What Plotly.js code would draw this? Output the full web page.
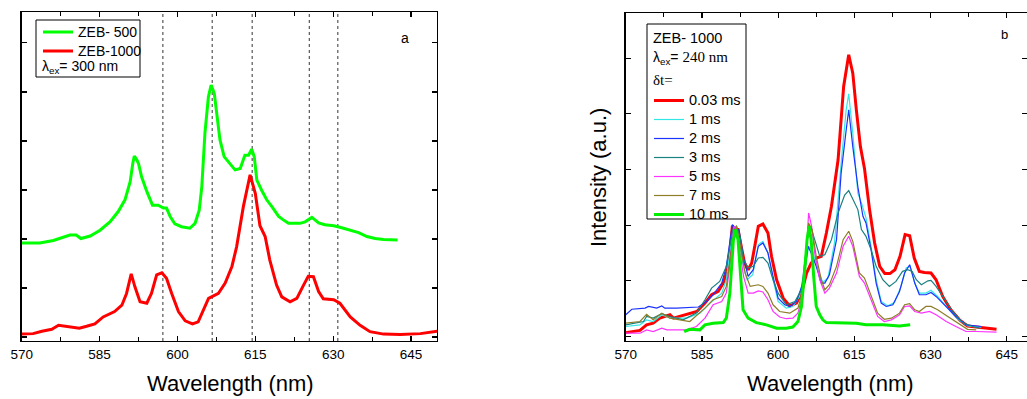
<!DOCTYPE html>
<html>
<head>
<meta charset="utf-8">
<script src="https://cdn.plot.ly/plotly-3.0.1.min.js"></script>
<style>html,body{margin:0;padding:0;background:#fff}#chart{width:1027px;height:399px}</style>
</head>
<body>
<div id="chart"></div>
<script>
// ---------- Panel a ----------
const wlZEB500 = [570,573.5,576.1,578.0,579.3,580.5,581.4,583.2,585.1,587.0,588.6,589.9,590.9,591.4,591.7,592.2,592.5,593.1,594.1,595.2,596.3,597.3,597.9,598.6,599.5,600.8,602.4,603.4,604.2,604.7,605.3,605.97,606.5,607.1,607.6,608.2,609.0,610.1,611.1,612.1,613.0,613.7,614.3,614.8,615.3,616.2,617.2,618.2,619.5,620.4,621.4,623.6,624.6,625.9,627.2,628.4,630.1,631.3,633.3,634.9,636.5,638.1,639.7,642.4];
const intZEB500 = [1.92,1.92,1.97,2.04,2.08,2.08,2.01,2.06,2.18,2.35,2.56,2.80,3.17,3.54,3.69,3.61,3.54,3.27,2.97,2.69,2.69,2.63,2.63,2.46,2.31,2.25,2.22,2.32,2.59,3.07,4.16,4.90,5.14,4.97,4.56,4.02,3.68,3.54,3.41,3.44,3.71,3.71,3.83,3.68,3.20,3.00,2.80,2.66,2.46,2.39,2.32,2.32,2.35,2.44,2.33,2.29,2.27,2.24,2.17,2.13,2.05,2.01,1.99,1.98];
const wlZEB1000 = [570,572.2,573.9,575.8,577.1,578.7,581.1,582.5,584.1,585.7,587.9,589.3,590.2,591.1,591.8,592.8,594.1,595.0,596.0,597.0,597.9,598.9,600.2,601.5,602.9,604.0,605.0,606.0,607.9,609.2,610.5,611.4,612.7,613.4,614.0,615.0,615.9,616.9,617.8,619.1,620.1,621.7,623.0,624.3,625.2,626.2,627.2,628.1,630.1,631.3,633.3,635.2,637.1,639.7,642.9,646.8,650.1];
const intZEB1000 = [0.06,0.07,0.12,0.16,0.24,0.22,0.18,0.22,0.27,0.41,0.52,0.65,0.89,1.29,1.03,0.72,0.69,0.89,1.27,1.31,1.20,0.89,0.52,0.33,0.27,0.31,0.55,0.79,0.89,1.10,1.44,1.84,2.66,3.03,3.31,2.93,2.27,2.05,1.57,1.06,0.82,0.72,0.79,1.06,1.24,1.23,0.93,0.78,0.76,0.69,0.41,0.24,0.11,0.06,0.05,0.07,0.12];
const guideLinesNm = [597.2, 606.7, 614.4, 625.4, 630.9];
const xTickVals = [570,585,600,615,630,645];

// ---------- Panel b ----------
const wl003 = [570,572.8,574.1,575.4,576.7,578.7,579.4,582.0,584.0,585.6,586.9,588.2,589.2,590.2,591.0,591.5,592.1,592.8,593.4,594.1,594.8,595.4,596.1,597.0,598.0,598.7,599.7,601.0,602.3,603.6,604.6,605.6,606.5,607.5,608.5,609.5,610.5,611.8,612.9,613.9,614.7,615.4,616.2,617.0,618.0,619.0,620.0,621.0,622.0,623.0,624.0,625.0,625.9,626.8,627.8,628.8,630.1,631.1,632.4,634.0,635.7,637.3,638.9,640.9,643.0];
const int003 = [0.07,0.11,0.21,0.24,0.33,0.39,0.33,0.39,0.45,0.60,0.75,0.81,0.96,1.26,1.99,1.92,1.92,1.59,1.32,1.20,1.32,1.62,1.98,2.02,1.86,1.44,1.02,0.69,0.55,0.60,0.78,1.14,1.32,1.41,1.44,1.86,2.34,3.17,4.49,5.06,4.73,4.07,3.41,3.02,2.28,1.68,1.26,1.13,1.13,1.20,1.44,1.83,1.81,1.41,1.17,1.15,1.14,1.02,0.72,0.48,0.30,0.19,0.17,0.15,0.13];
const wl1 = [570,572.8,574.1,575.4,577.1,578.7,582.0,584.6,586.6,588.9,589.8,590.8,591.3,592.1,593.0,593.9,595.0,596.1,597.0,598.0,599.0,600.0,601.6,602.9,604.2,605.4,606.0,606.7,607.8,608.8,609.8,611.1,612.4,613.4,613.9,614.7,615.7,616.4,617.3,618.3,619.3,620.3,621.6,622.9,624.2,625.2,626.0,626.9,627.8,629.1,630.1,631.4,633.4,635.4,637.3,640.0];
const int1 = [0.18,0.21,0.30,0.27,0.39,0.33,0.33,0.42,0.60,0.78,1.02,1.74,1.98,1.86,1.32,1.02,1.11,1.65,1.71,1.50,1.02,0.63,0.51,0.54,0.72,1.26,1.62,1.56,1.20,0.97,1.05,1.68,3.11,4.07,4.36,3.65,2.57,2.40,2.13,1.62,1.02,0.63,0.55,0.61,0.90,1.23,1.26,0.96,0.78,0.78,0.83,0.72,0.51,0.31,0.19,0.17];
const wl2 = [570,571.2,573.8,574.5,576.1,577.1,577.7,580.0,584.3,585.9,587.2,588.9,589.8,591.0,591.7,592.3,593.1,594.1,595.1,596.1,597.0,598.0,599.0,600.0,601.3,602.3,603.6,604.9,605.9,606.5,607.5,608.5,609.2,610.1,611.5,612.4,613.4,613.9,614.7,615.7,616.7,617.3,618.3,619.3,620.3,621.3,622.6,623.9,624.9,625.9,626.9,627.8,629.1,630.1,631.1,633.1,635.0,637.0,640.0];
const int2 = [0.39,0.49,0.51,0.54,0.51,0.55,0.51,0.51,0.53,0.63,0.75,0.96,1.26,2.01,1.92,1.92,1.44,1.08,1.20,1.62,1.68,1.50,1.08,0.69,0.57,0.54,0.63,0.96,1.62,1.50,1.26,0.96,0.96,1.11,1.74,2.93,3.71,4.07,3.41,2.69,2.16,2.04,1.56,0.96,0.60,0.54,0.57,0.81,1.14,1.29,0.96,0.75,0.75,0.79,0.72,0.54,0.36,0.21,0.18];
const wl3 = [570,572.2,573.5,574.1,575.4,577.1,578.7,581.3,583.9,585.6,586.9,588.5,589.8,591.1,591.8,592.5,593.2,594.1,595.1,596.1,597.0,598.0,599.0,600.0,601.6,603.3,604.6,605.9,606.4,607.2,608.2,609.2,610.5,611.8,613.1,613.9,614.7,615.7,616.4,617.3,618.3,619.3,620.6,621.9,623.2,624.5,625.5,626.4,627.2,628.2,629.5,630.1,631.1,632.4,634.4,636.3,638.3,639.6];
const int3 = [0.21,0.25,0.27,0.36,0.33,0.41,0.36,0.30,0.42,0.66,0.87,0.99,1.26,1.92,1.98,1.80,1.38,1.23,1.26,1.41,1.42,1.32,1.02,0.78,0.57,0.63,0.84,1.86,1.98,1.74,1.44,1.47,1.74,2.22,2.54,2.62,2.46,2.28,1.92,1.80,1.56,1.26,1.02,0.90,0.99,1.17,1.20,1.17,1.02,0.93,1.00,1.01,0.90,0.72,0.45,0.25,0.18,0.15];
const wl5 = [570,572.8,574.1,575.4,577.1,578.1,582.0,583.9,585.6,587.2,588.9,589.8,590.8,591.3,591.8,592.5,593.2,594.1,595.1,596.1,597.0,598.0,599.0,600.3,601.6,602.9,603.9,604.9,605.6,606.0,606.6,607.2,608.2,609.2,610.1,611.5,612.8,613.9,614.7,616.0,617.0,618.3,619.6,620.9,622.3,623.9,624.9,625.9,626.9,628.2,629.8,631.1,633.1,635.0,637.0,639.0,643.0];
const int5 = [0.06,0.06,0.12,0.09,0.15,0.12,0.12,0.18,0.33,0.57,0.63,0.78,1.50,1.98,1.92,1.50,1.08,0.78,0.78,0.82,0.80,0.66,0.45,0.35,0.32,0.33,0.42,0.78,1.56,2.22,1.98,1.50,1.02,0.78,0.87,1.14,1.62,1.80,1.62,1.08,0.96,0.66,0.36,0.27,0.30,0.39,0.54,0.55,0.45,0.42,0.45,0.39,0.27,0.18,0.09,0.09,0.08];
const wl7 = [570,572.8,574.1,575.4,577.1,578.7,582.6,584.6,585.6,587.2,588.9,589.8,591.0,591.8,592.5,593.5,594.5,595.4,596.1,597.0,598.0,599.0,600.3,602.3,603.9,604.9,605.6,606.0,606.7,607.5,608.5,609.2,610.1,611.5,612.8,613.9,614.7,616.0,617.0,618.3,619.6,620.9,622.3,623.9,624.9,625.9,626.9,627.8,629.1,630.1,631.4,633.4,635.4,637.3,639.0];
const int7 = [0.24,0.27,0.40,0.30,0.42,0.33,0.27,0.42,0.51,0.66,0.72,0.90,1.62,1.99,1.62,1.14,0.90,0.91,0.93,0.90,0.78,0.57,0.45,0.42,0.51,0.84,1.56,2.04,1.92,1.44,1.02,0.84,0.93,1.26,1.74,1.89,1.71,1.14,1.05,0.72,0.42,0.31,0.33,0.42,0.57,0.59,0.48,0.45,0.54,0.54,0.48,0.36,0.24,0.13,0.12];
const wl10 = [581.5,582.6,584.6,585.6,587.2,589.2,589.8,590.5,591.2,591.6,592.1,592.6,593.1,594.1,595.7,597.7,599.7,601.6,602.9,603.9,604.6,605.2,605.7,606.1,606.5,607.0,607.5,608.2,608.8,609.5,612.8,615.4,617.3,620.6,623.9,626.0];
const int10 = [0.09,0.13,0.12,0.21,0.24,0.25,0.33,0.78,1.74,1.92,1.74,1.02,0.48,0.33,0.25,0.21,0.15,0.15,0.17,0.27,0.54,1.14,1.74,1.98,1.74,1.08,0.54,0.39,0.30,0.25,0.25,0.24,0.21,0.21,0.19,0.21];
const delayNames = ['0.03 ms','1 ms','2 ms','3 ms','5 ms','7 ms','10 ms'];

const FONT = 'Liberation Sans, Arial, sans-serif';
const big = (s, sz) => '<span style="font-size:' + (sz || 14.5) + 'px">' + s + '</span>';

const traces = [
  {x: wlZEB500, y: intZEB500, name: big('ZEB- 500', 14), xaxis:'x', yaxis:'y', mode:'lines', line:{color:'#00ff00', width:3}, legend:'legend'},
  {x: wlZEB1000, y: intZEB1000, name: big('ZEB-1000', 14), xaxis:'x', yaxis:'y', mode:'lines', line:{color:'#ff0000', width:3}, legend:'legend'},
  {x: wl003, y: int003, name: big(delayNames[0]), xaxis:'x2', yaxis:'y2', mode:'lines', line:{color:'#ff0000', width:3}, legend:'legend2'},
  {x: wl1, y: int1, name: big(delayNames[1]), xaxis:'x2', yaxis:'y2', mode:'lines', line:{color:'#33e6e6', width:1.2}, legend:'legend2'},
  {x: wl2, y: int2, name: big(delayNames[2]), xaxis:'x2', yaxis:'y2', mode:'lines', line:{color:'#1a33ff', width:1.2}, legend:'legend2'},
  {x: wl3, y: int3, name: big(delayNames[3]), xaxis:'x2', yaxis:'y2', mode:'lines', line:{color:'#1a8080', width:1.2}, legend:'legend2'},
  {x: wl5, y: int5, name: big(delayNames[4]), xaxis:'x2', yaxis:'y2', mode:'lines', line:{color:'#ff33ff', width:1.2}, legend:'legend2'},
  {x: wl7, y: int7, name: big(delayNames[5]), xaxis:'x2', yaxis:'y2', mode:'lines', line:{color:'#8c7d26', width:1.2}, legend:'legend2'},
  {x: wl10, y: int10, name: big(delayNames[6]), xaxis:'x2', yaxis:'y2', mode:'lines', line:{color:'#00ee00', width:3}, legend:'legend2'}
];

const xCommon = {
  tickvals: xTickVals, ticktext: xTickVals.map(String),
  ticks:'inside', ticklen:5, tickwidth:1.2, tickcolor:'#000',
  minor:{dtick:7.5, tick0:570, ticks:'inside', ticklen:4, tickwidth:1, tickcolor:'#000'},
  showline:true, linecolor:'#000', linewidth:1.5, mirror:'ticks',
  showgrid:false, zeroline:false, automargin:false,
  tickfont:{family:FONT, size:13.5, color:'#000'}
};
const yCommon = {
  dtick:1, tick0:0, ticks:'inside', ticklen:5, tickwidth:1.2, tickcolor:'#000',
  showticklabels:false, showline:true, linecolor:'#000', linewidth:1.5, mirror:'ticks',
  showgrid:false, zeroline:false, automargin:false
};

const W = 1027, H = 399;
const px = v => v / W, py = v => 1 - v / H;

const shapes = guideLinesNm.map(v => ({type:'line', xref:'x', yref:'y domain', x0:v, x1:v, y0:0, y1:1, line:{color:'#333', width:1, dash:'dot'}, layer:'below'}));
// legend frames
shapes.push({type:'rect', xref:'paper', yref:'paper', x0:px(36), x1:px(140), y0:py(77), y1:py(20), line:{color:'#000', width:1}, fillcolor:'#fff', layer:'above'});
shapes.push({type:'rect', xref:'paper', yref:'paper', x0:px(647), x1:px(746), y0:py(219), y1:py(24), line:{color:'#000', width:1}, fillcolor:'#fff', layer:'above'});

const ann = (x, y, text, opts) => Object.assign({xref:'paper', yref:'paper', x:px(x), y:py(y), text:text, showarrow:false, xanchor:'left', yanchor:'middle', font:{family:FONT, size:14, color:'#000'}}, opts || {});
const TITLE_FONT = {family:FONT, size:22, color:'#000'};

const layout = {
  width:W, height:H,
  margin:{l:0, r:0, t:0, b:0},
  paper_bgcolor:'#fff', plot_bgcolor:'#fff',
  hovermode:false,
  font:{family:FONT, color:'#000'},
  xaxis: Object.assign({}, xCommon, {domain:[0.0211, 0.4255], range:[570, 650]}),
  yaxis: Object.assign({}, yCommon, {domain:[0.1454, 0.9699], range:[-0.08, 6.63]}),
  xaxis2: Object.assign({}, xCommon, {anchor:'y2', domain:[0.6093, 1.0], range:[570, 649.0]}),
  yaxis2: Object.assign({}, yCommon, {anchor:'x2', domain:[0.1454, 0.9674], range:[-0.08, 5.81]}),
  shapes: shapes,
  legend:{x:px(38), y:py(17.5), xanchor:'left', yanchor:'top', bgcolor:'rgba(0,0,0,0)', borderwidth:0,
    font:{family:FONT, size:11.5, color:'#000'}, tracegroupgap:0, itemwidth:30},
  legend2:{x:px(649), y:py(86), xanchor:'left', yanchor:'top', bgcolor:'rgba(0,0,0,0)', borderwidth:0,
    font:{family:FONT, size:11.5, color:'#000'}, tracegroupgap:0, itemwidth:30},
  annotations:[
    ann(40, 67, 'λ<sub>ex</sub>= 300 nm'),
    ann(651, 38, 'ZEB- 1000', {font:{family:FONT, size:14.5, color:'#000'}}),
    ann(651, 58, 'λ<sub>ex</sub>= <span style="font-family:Liberation Serif;font-size:15px">240 nm</span>'),
    ann(651, 80, '<span style="font-family:Liberation Serif;font-size:15px">δt=</span>'),
    ann(405, 38, 'a', {xanchor:'center', font:{family:FONT, size:14, color:'#000'}}),
    ann(1004, 34, 'b', {xanchor:'center', font:{family:FONT, size:13, color:'#000'}}),
    ann(598, 178, 'Intensity (a.u.)', {xanchor:'center', textangle:-90, font:TITLE_FONT}),
    ann(230, 383, 'Wavelength (nm)', {xanchor:'center', font:TITLE_FONT}),
    ann(830, 383, 'Wavelength (nm)', {xanchor:'center', font:TITLE_FONT})
  ]
};

Plotly.newPlot('chart', traces, layout, {displayModeBar:false, staticPlot:true});
</script>
</body>
</html>
